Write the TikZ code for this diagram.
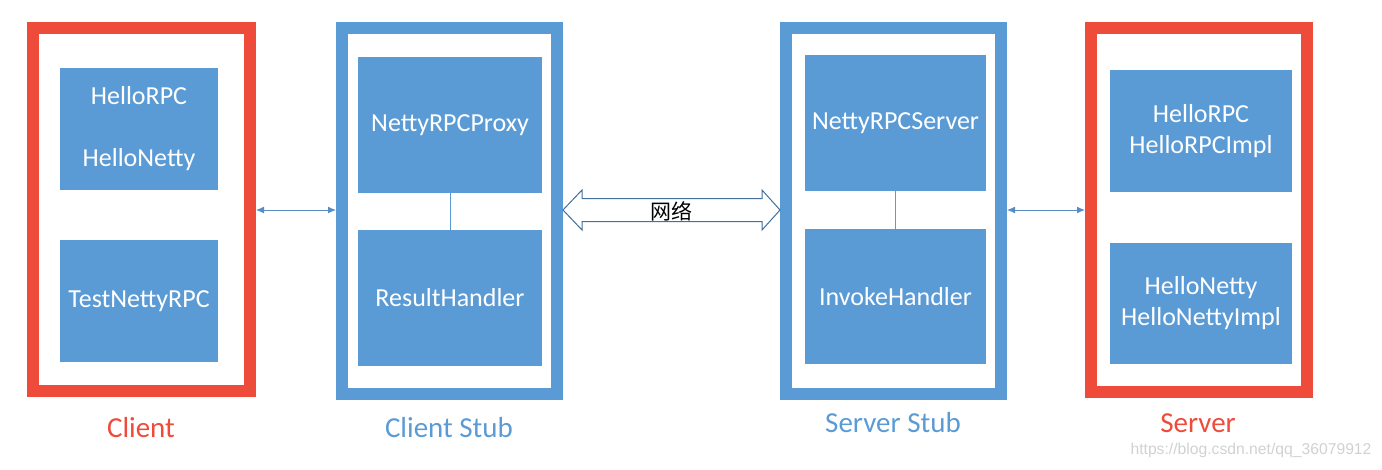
\documentclass[tikz,border=0pt]{standalone}
\usepackage{fontspec}
\setmainfont{Carlito}
\newfontfamily\cjk{Noto Sans CJK SC}
\newfontfamily\wmfont{Liberation Sans}
\usetikzlibrary{arrows.meta}
\definecolor{boxblue}{HTML}{5B9BD5}
\definecolor{framered}{HTML}{EE4B3A}
\definecolor{linkblue}{HTML}{5B8BC5}
\definecolor{netline}{HTML}{41719C}
\begin{document}
\begin{tikzpicture}[x=1pt,y=-1pt,
  frame/.style={draw,line width=12pt,inner sep=0pt},
  redframe/.style={frame,draw=framered},
  blueframe/.style={frame,draw=boxblue},
  part/.style={fill=boxblue,text=white,align=center,inner sep=0pt,font=\fontsize{26}{31}\selectfont},
  caption/.style={font=\fontsize{29}{33}\selectfont},
  link/.style={{Latex[length=8pt,width=7pt]}-{Latex[length=8pt,width=7pt]},linkblue,line width=1pt}]
\useasboundingbox (0,0) rectangle (1382,469);

% outer frames
\node (client) at (141.5,209.5) [redframe,minimum width=217,minimum height=363] {};
\node (cstub) at (449.5,211) [blueframe,minimum width=215,minimum height=366] {};
\node (sstub) at (893.5,211) [blueframe,minimum width=215,minimum height=366] {};
\node (server) at (1199,210) [redframe,minimum width=216,minimum height=364] {};

% client side
\node (hello) at (139,129) [part,minimum width=158,minimum height=122] {HelloRPC\\[31pt]HelloNetty};
\node (test) at (139,301) [part,minimum width=158,minimum height=122] {TestNettyRPC};
\node (proxy) at (450,125) [part,minimum width=184,minimum height=136] {NettyRPCProxy};
\node (result) at (450,298) [part,minimum width=184,minimum height=136] {ResultHandler};
\draw [boxblue,line width=1pt] (proxy) -- (result);

% server side
\node (nserver) at (895.5,123) [part,minimum width=181,minimum height=136] {NettyRPCServer};
\node (invoke) at (895.5,296.5) [part,minimum width=181,minimum height=135] {InvokeHandler};
\draw [boxblue,line width=1pt] (nserver) -- (invoke);
\node (impl1) at (1201,131) [part,minimum width=182,minimum height=122] {HelloRPC\\HelloRPCImpl};
\node (impl2) at (1201,303.5) [part,minimum width=182,minimum height=121] {HelloNetty\\HelloNettyImpl};

% links
\draw [link] (client.east |- 0,210) -- (cstub.west |- 0,210);
\draw [link] (sstub.east |- 0,210) -- (server.west |- 0,210);
\draw [netline,fill=white,line width=1pt] (cstub.east |- 0,210) -- (582,190) -- (582,198.5) -- (762,198.5) -- (762,190) -- (sstub.west |- 0,210) -- (762,230) -- (762,221.5) -- (582,221.5) -- (582,230) -- cycle;
\node (net) at (671,211) {\cjk\fontsize{21}{24}\selectfont 网络};

% captions
\node (lclient) at (141,428) [caption,text=framered] {Client};
\node (lcstub) at (449,428) [caption,text=boxblue] {Client Stub};
\node (lsstub) at (893,423) [caption,text=boxblue] {Server Stub};
\node (lserver) at (1198,423) [caption,text=framered] {Server};
\node (mark) at (1251,450) [text=black!18,font=\wmfont\fontsize{15.7}{18}\selectfont] {https://blog.csdn.net/qq\_36079912};
\end{tikzpicture}
\end{document}
